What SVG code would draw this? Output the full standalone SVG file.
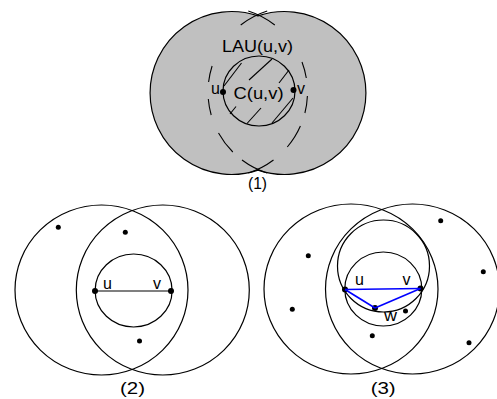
<svg xmlns="http://www.w3.org/2000/svg" width="497" height="399" viewBox="0 0 497 399">
<style>
.c{fill:none;stroke:#000;stroke-width:1.2}
.h{fill:none;stroke:#000;stroke-width:1.1}
.dt{fill:#000}
.bl{fill:none;stroke:#0000ff;stroke-width:1.6}
.k{fill:none;stroke:#000;stroke-width:1.2}
text{font-family:"Liberation Sans",Arial,sans-serif;font-size:16px;fill:#000}
</style>
<rect width="497" height="399" fill="#fff"/>

<g id="fig1">
  <g id="lau">
    <path d="M258 15.9 A81.5 81.5 0 1 0 258 170.1 A81.5 81.5 0 1 0 258 15.9 Z" fill="#c0c0c0" stroke="#000" stroke-width="1.2"/>
    <text x="222" y="51.5" textLength="71" lengthAdjust="spacingAndGlyphs">LAU(u,v)</text>
  </g>
  <g id="dashed-arcs" class="h">
    <path d="M267.2 11 A85 85 0 0 0 240.7 25"/>
    <path d="M212.1 66 A85 85 0 0 0 208.6 82"/>
    <path d="M208.3 99 A85 85 0 0 0 211.2 115"/>
    <path d="M218.5 133 A85 85 0 0 0 232.8 152"/>
    <path d="M242 160 A85 85 0 0 0 267.2 173"/>
    <path d="M248.3 11 A85 85 0 0 1 274.8 25"/>
    <path d="M302 62 A85 85 0 0 1 306.3 78"/>
    <path d="M307.4 96 A85 85 0 0 1 304.9 113"/>
    <path d="M300.4 126 A85 85 0 0 1 287.3 147"/>
    <path d="M273.5 160 A85 85 0 0 1 248.3 173"/>
  </g>
  <g id="cuv">
    <ellipse cx="259" cy="91" rx="36" ry="35" class="c"/>
    <g class="h">
      <line x1="224" y1="86" x2="241.5" y2="63"/>
      <line x1="249" y1="80" x2="272" y2="59"/>
      <line x1="279" y1="83" x2="289" y2="70"/>
      <line x1="272" y1="123" x2="293" y2="98"/>
      <line x1="247" y1="123.5" x2="261" y2="108"/>
      <line x1="230" y1="114" x2="236" y2="106.5"/>
    </g>
    <text x="233.5" y="98.7" textLength="50" lengthAdjust="spacingAndGlyphs">C(u,v)</text>
  </g>
  <g id="u1"><circle cx="223" cy="92" r="3" class="dt"/><text x="211" y="94">u</text></g>
  <g id="v1"><circle cx="293.5" cy="90" r="3" class="dt"/><text x="297" y="94">v</text></g>
  <text x="248" y="188.5" textLength="19" lengthAdjust="spacingAndGlyphs">(1)</text>
</g>

<g id="fig2">
  <g id="range2">
    <ellipse cx="101.5" cy="290" rx="86.5" ry="85" class="c"/>
    <ellipse cx="162.8" cy="290" rx="86.5" ry="85" class="c"/>
  </g>
  <g id="c2"><ellipse cx="133.6" cy="290.5" rx="38.5" ry="36.5" class="c"/></g>
  <g id="u2"><circle cx="95" cy="291" r="3" class="dt"/><text x="103" y="288.5">u</text></g>
  <g id="v2"><circle cx="171" cy="291" r="3" class="dt"/><text x="153" y="288.5">v</text></g>
  <g id="n2a"><circle cx="58.3" cy="227.3" r="2.5" class="dt"/></g>
  <g id="n2b"><circle cx="125.3" cy="232.3" r="2.5" class="dt"/></g>
  <g id="n2c"><circle cx="139.5" cy="341" r="2.5" class="dt"/></g>
  <text x="120" y="393.5" textLength="25" lengthAdjust="spacingAndGlyphs">(2)</text>
</g>

<g id="fig3">
  <g id="range3">
    <ellipse cx="351" cy="289" rx="87" ry="85" class="c"/>
    <ellipse cx="412.5" cy="289" rx="87" ry="85" class="c"/>
  </g>
  <g id="c3"><ellipse cx="383.3" cy="289" rx="38.5" ry="37" class="c"/></g>
  <g id="cc3"><circle cx="383.5" cy="266" r="46" class="c"/></g>
  <g id="u3"><circle cx="345" cy="289.5" r="3" class="dt"/><text x="355" y="284.5">u</text></g>
  <g id="v3"><circle cx="420.5" cy="288.5" r="3" class="dt"/><text x="402.5" y="284.5">v</text></g>
  <g id="w3"><circle cx="375" cy="308" r="3" class="dt"/><text x="384" y="320.5" textLength="13" lengthAdjust="spacingAndGlyphs">w</text></g>
  <g id="n3a"><circle cx="440.7" cy="220.7" r="2.5" class="dt"/></g>
  <g id="n3b"><circle cx="308.3" cy="255.7" r="2.5" class="dt"/></g>
  <g id="n3c"><circle cx="483.3" cy="271.7" r="2.5" class="dt"/></g>
  <g id="n3d"><circle cx="292.3" cy="309.3" r="2.5" class="dt"/></g>
  <g id="n3e"><circle cx="405.5" cy="311" r="2.5" class="dt"/></g>
  <g id="n3f"><circle cx="372.3" cy="335.7" r="2.5" class="dt"/></g>
  <g id="n3g"><circle cx="469" cy="342.7" r="2.5" class="dt"/></g>
  <text x="370.7" y="393.5" textLength="25" lengthAdjust="spacingAndGlyphs">(3)</text>
</g>

<g id="connectors">
  <line x1="95" y1="291" x2="171" y2="291" class="k"/>
  <line x1="345" y1="289.5" x2="420.5" y2="288.5" class="bl"/>
  <line x1="345" y1="289.5" x2="375" y2="308" class="bl"/>
  <line x1="375" y1="308" x2="420.5" y2="288.5" class="bl"/>
</g>
</svg>
